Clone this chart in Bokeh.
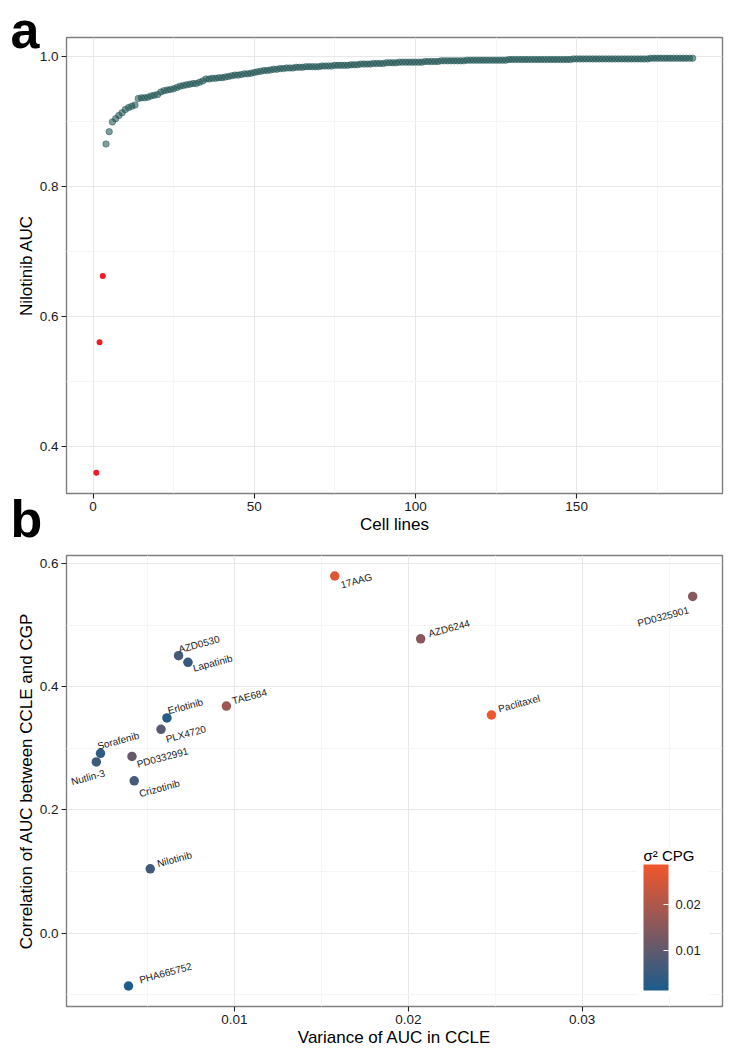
from bokeh.plotting import figure
from bokeh.layouts import column
from bokeh.models import (Range1d, FixedTicker, PrintfTickFormatter, Label, Title,
                          ColumnDataSource, LinearColorMapper, ColorBar)
from bokeh.transform import transform
from bokeh.core.properties import value
from bokeh.embed import file_html
from bokeh.resources import INLINE

# ---------------- Panel a data ----------------
n_highlight = 3  # the three most sensitive cell lines (red)
nilotinib_auc = [
    0.360, 0.561, 0.663,
    0.866, 0.885, 0.900, 0.905, 0.910, 0.914, 0.919, 0.922, 0.924, 0.926,
    0.936, 0.937, 0.937, 0.938, 0.940, 0.941, 0.942, 0.946, 0.948, 0.949,
    0.950, 0.951, 0.953, 0.955, 0.956, 0.957, 0.958, 0.959, 0.959, 0.961,
    0.963, 0.966, 0.966, 0.967, 0.967, 0.968, 0.968, 0.969, 0.970, 0.971,
    0.972, 0.972, 0.973, 0.974, 0.974, 0.975, 0.976, 0.977, 0.978, 0.979,
    0.979, 0.980, 0.981, 0.981, 0.982, 0.982, 0.983, 0.983, 0.983, 0.984,
    0.984, 0.984, 0.985, 0.985, 0.985, 0.985, 0.985, 0.986, 0.986, 0.986,
    0.986, 0.987, 0.987, 0.987, 0.987, 0.987, 0.988, 0.988, 0.988, 0.989,
    0.989, 0.989, 0.989, 0.990, 0.990, 0.990, 0.990, 0.991, 0.991, 0.991,
    0.991, 0.992, 0.992, 0.992, 0.992, 0.992, 0.992, 0.992, 0.992, 0.993,
    0.993, 0.993, 0.993, 0.993, 0.994, 0.994, 0.994, 0.994, 0.994, 0.994,
    0.994, 0.994, 0.995, 0.995, 0.995, 0.995, 0.995, 0.995, 0.995, 0.995,
    0.995, 0.995, 0.995, 0.995, 0.995, 0.996, 0.996, 0.996, 0.996, 0.996,
    0.996, 0.996, 0.996, 0.996, 0.996, 0.996, 0.996, 0.996, 0.996, 0.996,
    0.996, 0.996, 0.996, 0.996, 0.996, 0.997, 0.997, 0.997, 0.997, 0.997,
    0.997, 0.997, 0.997, 0.997, 0.997, 0.997, 0.997, 0.997, 0.997, 0.997,
    0.997, 0.997, 0.997, 0.997, 0.997, 0.997, 0.997, 0.997, 0.997, 0.998,
    0.998, 0.998, 0.998, 0.998, 0.998, 0.998, 0.998, 0.998, 0.998, 0.998,
    0.998, 0.998, 0.998,
]
cell_line = list(range(1, len(nilotinib_auc) + 1))

a_xticks = [0, 50, 100, 150]
a_xminor = [-25, 25, 75, 125, 175]
a_yticks = [0.4, 0.6, 0.8, 1.0]
a_yminor = [0.3, 0.5, 0.7, 0.9]

# ---------------- Panel b data ----------------
drugs = ["17AAG", "AZD0530", "Lapatinib", "TAE684", "Erlotinib", "PLX4720",
         "Sorafenib", "Nutlin-3", "PD0332991", "Crizotinib", "AZD6244",
         "PD0325901", "Paclitaxel", "Nilotinib", "PHA665752"]
variance_ccle = [0.01577, 0.00679, 0.00733, 0.00954, 0.00612, 0.00578,
                 0.00230, 0.00206, 0.00411, 0.00424, 0.02071,
                 0.03635, 0.02478, 0.00516, 0.00391]
correlation = [0.580, 0.4505, 0.4397, 0.3687, 0.3494, 0.331,
               0.292, 0.278, 0.287, 0.2473, 0.4779,
               0.5468, 0.3542, 0.1044, -0.0860]
sigma2_cgp = [0.026, 0.007, 0.005, 0.018, 0.003, 0.009,
              0.004, 0.006, 0.011, 0.007, 0.015,
              0.015, 0.0287, 0.006, 0.00136]
# label placement (screen px, baseline-left anchor relative to the point)
label_dx = [6, 0, 5, 6, 1, 5, -3, -25, 5, 5, 8, -55, 7, 7, 11]
label_dy = [9, -6, 6, -5, -7, 10, -7, 20, 8, 13, -5, 27, -6, -5, -6]

b_xticks = [0.01, 0.02, 0.03]
b_xminor = [0.005, 0.015, 0.025, 0.035]
b_yticks = [0.0, 0.2, 0.4, 0.6]
b_yminor = [-0.1, 0.1, 0.3, 0.5]
cb_ticks = [0.01, 0.02]

FONT = "Liberation Sans"
MAJOR = "#e8e8e8"
MINOR = "#f5f5f5"


def expand(vals, frac=0.05):
    lo, hi = min(vals), max(vals)
    d = (hi - lo) * frac
    return lo - d, hi + d


def style(p, xt, xm, yt, ym, xfmt, yfmt, xlabel, ylabel):
    p.outline_line_color = "#808080"
    p.outline_line_width = 1.4
    p.background_fill_color = "white"
    p.border_fill_color = "white"
    p.xaxis.ticker = FixedTicker(ticks=xt, minor_ticks=xm)
    p.yaxis.ticker = FixedTicker(ticks=yt, minor_ticks=ym)
    if xfmt:
        p.xaxis.formatter = PrintfTickFormatter(format=xfmt)
    if yfmt:
        p.yaxis.formatter = PrintfTickFormatter(format=yfmt)
    for ax in (p.xaxis, p.yaxis):
        ax.axis_line_color = None
        ax.major_tick_line_color = "#222222"
        ax.major_tick_line_width = 1.1
        ax.major_tick_out = 5
        ax.major_tick_in = 0
        ax.minor_tick_line_color = None
        ax.major_label_text_font = FONT
        ax.major_label_text_font_size = "13.5px"
        ax.major_label_text_color = "#1a1a1a"
        ax.major_label_standoff = 3
        ax.axis_label_text_font = FONT
        ax.axis_label_text_font_size = "17px"
        ax.axis_label_text_font_style = "normal"
        ax.axis_label_text_color = "black"
        ax.axis_label_standoff = 1
    p.xaxis.axis_label = xlabel
    p.yaxis.axis_label = ylabel
    for g in (p.xgrid, p.ygrid):
        g.grid_line_color = MAJOR
        g.grid_line_width = 1
        g.minor_grid_line_color = MINOR
        g.minor_grid_line_width = 1


# ---------------- Panel a ----------------
xa0, xa1 = expand(cell_line)
ya0, ya1 = expand(nilotinib_auc)
p1 = figure(width=745, height=550, output_backend="svg", toolbar_location=None,
            x_range=Range1d(xa0, xa1), y_range=Range1d(ya0, ya1),
            min_border_left=66, min_border_right=22, min_border_top=37,
            min_border_bottom=57)
style(p1, a_xticks, a_xminor, a_yticks, a_yminor, None, "%.1f",
      "Cell lines", "Nilotinib AUC")

src_rest = ColumnDataSource(dict(x=cell_line[n_highlight:], y=nilotinib_auc[n_highlight:]))
src_hi = ColumnDataSource(dict(x=cell_line[:n_highlight], y=nilotinib_auc[:n_highlight]))
p1.scatter("x", "y", source=src_rest, size=6.5, fill_color="#174d4d", fill_alpha=0.55,
           line_color="#174d4d", line_alpha=0.55, line_width=0.8)
p1.scatter("x", "y", source=src_hi, size=6, fill_color="#ee1c25", line_color=None)

# panel letters as titles in the side panels (side annotations are not clipped to the frame)
p1.add_layout(Title(text="a", align="left", vertical_align="bottom", offset=-56,
                    standoff=-42, text_font=FONT, text_font_size="52px",
                    text_font_style="bold", text_color="black"), "above")
p1.add_layout(Title(text="b", align="left", vertical_align="top", offset=-56,
                    standoff=-93, text_font=FONT, text_font_size="52px",
                    text_font_style="bold", text_color="black"), "below")

# ---------------- Panel b ----------------
xb0, xb1 = expand(variance_ccle)
yb0, yb1 = expand(correlation)
p2 = figure(width=745, height=499, output_backend="svg", toolbar_location=None,
            x_range=Range1d(xb0, xb1), y_range=Range1d(yb0, yb1),
            min_border_left=66, min_border_right=23, min_border_top=5,
            min_border_bottom=42)
style(p2, b_xticks, b_xminor, b_yticks, b_yminor, "%.2f", "%.1f",
      "Variance of AUC in CCLE", "Correlation of AUC between CCLE and CGP")


def hex2rgb(h):
    return tuple(int(h[i:i + 2], 16) for i in (1, 3, 5))


c_lo, c_hi = hex2rgb("#1c5b8c"), hex2rgb("#f2562c")
palette = []
for i in range(256):
    t = i / 255
    palette.append("#%02x%02x%02x" % tuple(int(round(a + (b - a) * t)) for a, b in zip(c_lo, c_hi)))
mapper = LinearColorMapper(palette=palette, low=min(sigma2_cgp), high=max(sigma2_cgp))

src_b = ColumnDataSource(dict(x=variance_ccle, y=correlation, s=sigma2_cgp, name=drugs,
                              dx=label_dx, dy=label_dy))
p2.scatter("x", "y", source=src_b, size=9.5, fill_color=transform("s", mapper), line_color=None)
p2.text("x", "y", text="name", source=src_b, x_offset="dx", y_offset="dy",
        angle=15, angle_units="deg", text_font=value(FONT), text_font_size="10px",
        text_color="#1a1a1a", text_align="left", text_baseline="alphabetic")

cb = ColorBar(color_mapper=mapper, ticker=FixedTicker(ticks=cb_ticks),
              formatter=PrintfTickFormatter(format="%.2f"),
              width=25, height=126, location=(571, 10), padding=6,
              major_label_text_font=FONT, major_label_text_font_size="13px",
              major_label_text_color="#1a1a1a", label_standoff=7,
              major_tick_line_color="white", major_tick_in=5, major_tick_out=0,
              minor_tick_line_color=None, bar_line_color=None,
              background_fill_color="white", background_fill_alpha=1.0,
              border_line_color=None)
p2.add_layout(cb, "center")
# colour-bar title (horizontal, above the bar), in screen px from the frame's lower-left
p2.add_layout(Label(x=577, y=143, x_units="screen", y_units="screen",
                    text="\u03c3\u00b2 CPG", text_font=FONT, text_font_size="15px",
                    text_baseline="bottom", text_color="black",
                    background_fill_color="white"))

layout = column(p1, p2)
open("out.html", "w").write(file_html(layout, INLINE))
